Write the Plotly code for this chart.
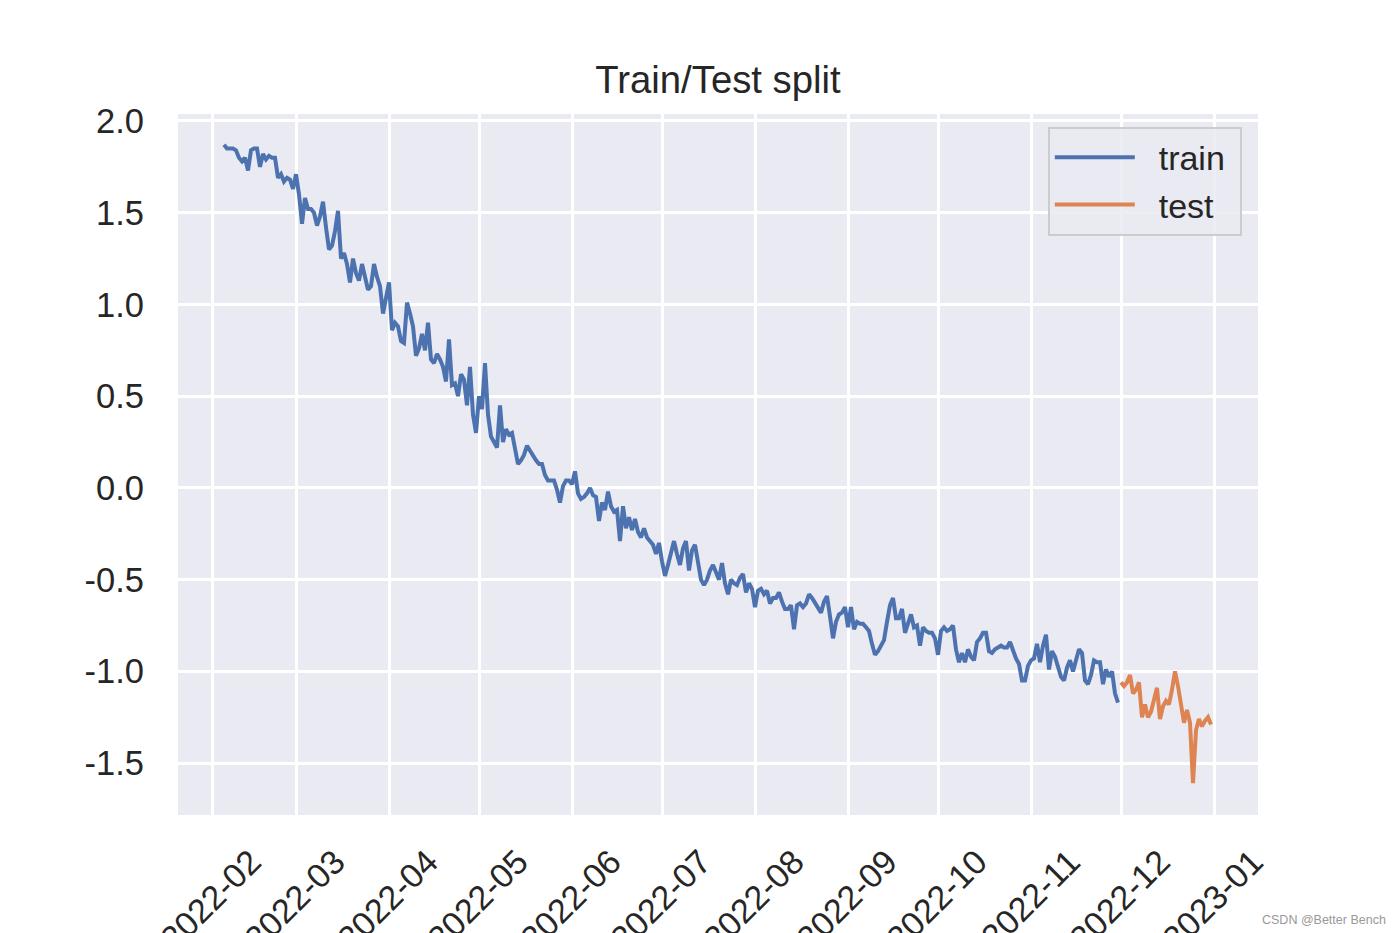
import pandas as pd
import plotly.graph_objects as go

# ---- data ----
train_start = "2022-02-05"
train_values = [
    1.87, 1.85, 1.85, 1.85, 1.84, 1.80, 1.78, 1.80, 1.73, 1.84,
    1.85, 1.85, 1.75, 1.82, 1.79, 1.81, 1.80, 1.80, 1.69, 1.71,
    1.67, 1.69, 1.68, 1.63, 1.71, 1.60, 1.44, 1.58, 1.52, 1.52,
    1.50, 1.43, 1.48, 1.56, 1.42, 1.30, 1.32, 1.40, 1.51, 1.25,
    1.28, 1.22, 1.12, 1.25, 1.17, 1.13, 1.22, 1.14, 1.08, 1.10,
    1.22, 1.15, 1.10, 0.95, 1.05, 1.12, 0.86, 0.90, 0.88, 0.80,
    0.79, 1.01, 0.95, 0.88, 0.72, 0.76, 0.84, 0.75, 0.90, 0.70,
    0.68, 0.73, 0.70, 0.66, 0.58, 0.81, 0.56, 0.57, 0.50, 0.62,
    0.59, 0.45, 0.66, 0.40, 0.30, 0.50, 0.43, 0.68, 0.40, 0.28,
    0.25, 0.22, 0.45, 0.25, 0.32, 0.29, 0.30, 0.22, 0.13, 0.15,
    0.18, 0.23, 0.20, 0.18, 0.15, 0.13, 0.13, 0.07, 0.04, 0.04,
    0.04, -0.01, -0.08, 0.01, 0.04, 0.04, 0.02, 0.09, -0.03, -0.06,
    -0.05, -0.03, 0.00, -0.04, -0.05, -0.18, -0.08, -0.12, -0.02, -0.10,
    -0.13, -0.12, -0.29, -0.10, -0.22, -0.16, -0.23, -0.17, -0.24, -0.27,
    -0.22, -0.27, -0.29, -0.31, -0.36, -0.30, -0.40, -0.48, -0.42, -0.36,
    -0.29, -0.36, -0.42, -0.33, -0.29, -0.45, -0.34, -0.31, -0.40, -0.50,
    -0.53, -0.50, -0.45, -0.42, -0.46, -0.50, -0.41, -0.52, -0.58, -0.50,
    -0.52, -0.53, -0.49, -0.47, -0.57, -0.52, -0.55, -0.65, -0.56, -0.55,
    -0.58, -0.56, -0.63, -0.60, -0.60, -0.57, -0.62, -0.66, -0.66, -0.64,
    -0.77, -0.64, -0.63, -0.65, -0.63, -0.58, -0.60, -0.63, -0.65, -0.68,
    -0.62, -0.59, -0.70, -0.82, -0.73, -0.69, -0.68, -0.65, -0.76, -0.65,
    -0.77, -0.73, -0.74, -0.74, -0.76, -0.78, -0.85, -0.91, -0.89, -0.86,
    -0.83, -0.73, -0.64, -0.60, -0.71, -0.71, -0.66, -0.79, -0.74, -0.69,
    -0.76, -0.75, -0.86, -0.76, -0.78, -0.79, -0.79, -0.82, -0.91, -0.78,
    -0.76, -0.78, -0.77, -0.75, -0.88, -0.95, -0.90, -0.95, -0.88, -0.92,
    -0.94, -0.84, -0.82, -0.79, -0.79, -0.89, -0.90, -0.88, -0.87, -0.86,
    -0.87, -0.87, -0.84, -0.89, -0.93, -0.96, -1.05, -1.05, -0.97, -0.94,
    -0.93, -0.85, -0.95, -0.86, -0.80, -0.99, -0.89, -0.92, -0.97, -1.03,
    -1.05, -0.98, -0.94, -1.00, -0.94, -0.88, -0.90, -1.05, -1.07, -1.02,
    -0.94, -0.95, -0.95, -1.07, -0.99, -1.03, -1.00, -1.12, -1.17,
]
test_start = "2022-12-01"
test_values = [
    -1.06, -1.08, -1.06, -1.02, -1.12, -1.10, -1.06, -1.25, -1.18, -1.25,
    -1.22, -1.16, -1.09, -1.26, -1.19, -1.16, -1.18, -1.10, -1.00, -1.08,
    -1.17, -1.28, -1.21, -1.28, -1.61, -1.32, -1.26, -1.30, -1.27, -1.25,
    -1.29,
]
x_tick_vals = ["2022-02-01", "2022-03-01", "2022-04-01", "2022-05-01", "2022-06-01",
               "2022-07-01", "2022-08-01", "2022-09-01", "2022-10-01", "2022-11-01",
               "2022-12-01", "2023-01-01"]
x_tick_text = ["2022-02", "2022-03", "2022-04", "2022-05", "2022-06", "2022-07",
               "2022-08", "2022-09", "2022-10", "2022-11", "2022-12", "2023-01"]
y_tick_vals = [2.0, 1.5, 1.0, 0.5, 0.0, -0.5, -1.0, -1.5]
y_tick_text = ["2.0", "1.5", "1.0", "0.5", "0.0", "-0.5", "-1.0", "-1.5"]
series_names = ["train", "test"]

train_dates = pd.date_range(train_start, periods=len(train_values), freq="D")
test_dates = pd.date_range(test_start, periods=len(test_values), freq="D")

FONT = "Liberation Sans, Arial, Helvetica, sans-serif"
TXT = "#262626"
NB = "\u00a0"

fig = go.Figure()
fig.add_trace(go.Scatter(x=train_dates, y=train_values, mode="lines",
                         name=NB * 2 + series_names[0] + NB,
                         line=dict(color="#4C72B0", width=4)))
fig.add_trace(go.Scatter(x=test_dates, y=test_values, mode="lines",
                         name=NB * 2 + series_names[1],
                         line=dict(color="#DD8452", width=4)))

fig.update_layout(
    width=1400, height=933,
    margin=dict(l=178, r=142, t=114, b=118, autoexpand=False),
    paper_bgcolor="white",
    plot_bgcolor="#EAEAF2",
    font=dict(family=FONT, color=TXT, size=33),
    title=dict(text="Train/Test split", x=0.5, xref="paper", xanchor="center",
               y=1 - 80 / 933, yref="container", yanchor="middle",
               font=dict(size=38.3, color=TXT, family=FONT)),
    legend=dict(x=0.985, y=0.982, xref="paper", yref="paper", xanchor="right", yanchor="top",
                bgcolor="rgba(234,234,242,0.85)", bordercolor="#CCCCCC", borderwidth=2,
                font=dict(size=34, color=TXT, family=FONT), itemwidth=80,
                tracegroupgap=6),
    showlegend=True,
)
fig.update_xaxes(
    range=["2022-01-20 16:00", "2023-01-15 16:00"],
    tickvals=x_tick_vals, ticktext=x_tick_text, tickangle=-45,
    showgrid=True, gridcolor="white", gridwidth=2.5, zeroline=False, showline=False,
    ticks="", tickfont=dict(size=34, color=TXT, family=FONT),
    ticklabelshift=39, ticklabelstandoff=19, automargin=False,
)
fig.update_yaxes(
    range=[-1.783, 2.038],
    tickvals=y_tick_vals, ticktext=y_tick_text,
    showgrid=True, gridcolor="white", gridwidth=2.5, zeroline=False, showline=False,
    ticks="", tickfont=dict(size=34.5, color=TXT, family=FONT),
    ticklabelstandoff=33, automargin=False,
)
fig.add_annotation(text="CSDN @Better Bench", xref="paper", yref="paper",
                   x=(1388 - 178) / 1080, y=(815 - 920) / 701, xanchor="right", yanchor="middle",
                   showarrow=False, font=dict(size=12.5, color="#999999", family=FONT))

fig.write_html("out.html")
